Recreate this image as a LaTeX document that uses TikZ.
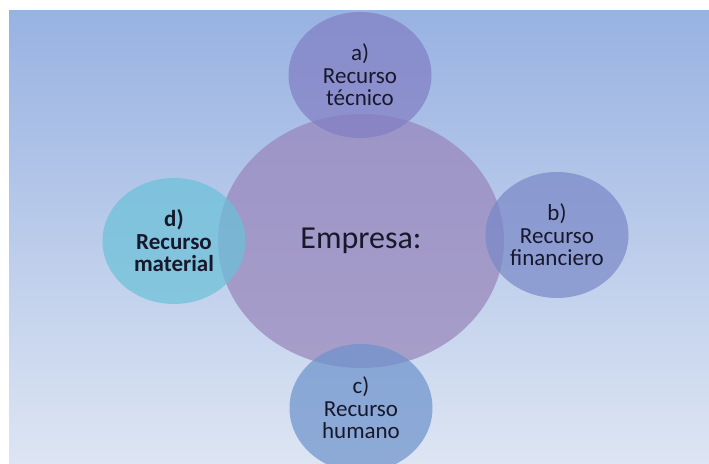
\documentclass[tikz,border=0pt]{standalone}
\usepackage{fontspec}
\setmainfont{Carlito}
\usetikzlibrary{shapes.geometric}

\definecolor{bgtop}{RGB}{152,178,226}
\definecolor{bgbottom}{RGB}{221,229,243}
\definecolor{empresacol}{RGB}{151,132,186}
\definecolor{tecnicocol}{RGB}{129,126,195}
\definecolor{financol}{RGB}{121,136,199}
\definecolor{humanocol}{RGB}{108,146,203}
\definecolor{materialcol}{RGB}{106,193,216}
\definecolor{inktext}{RGB}{24,24,44}

\begin{document}
\begin{tikzpicture}[x=1pt, y=1pt,
    recurso/.style={ellipse, fill opacity=0.7, text opacity=1, inner sep=0pt,
      minimum width=143pt, minimum height=126pt, align=center,
      font=\fontsize{23}{22.5}\selectfont, text=inktext}]
  \useasboundingbox (0,0) rectangle (709,463);

  % Background
  \shade[top color=bgtop, bottom color=bgbottom] (9,0) rectangle (709,452);

  % Company in the middle
  \node[recurso, fill=empresacol, minimum width=286pt, minimum height=254pt,
    font=\fontsize{32}{34}\selectfont] (empresa) at (361,222) {Empresa:};

  % Resources around it
  \node[recurso, fill=tecnicocol] (tecnico) at (360,388) {a)\\Recurso\\técnico};
  \node[recurso, fill=financol] (financiero) at (557,228) {b)\\Recurso\\financiero};
  \node[recurso, fill=humanocol, minimum height=128pt] (humano) at (361,55) {c)\\Recurso\\humano};
  \node[recurso, fill=materialcol, font=\fontsize{23}{22.5}\selectfont\bfseries] (material) at (174,222) {d)\\Recurso\\material};
\end{tikzpicture}
\end{document}
